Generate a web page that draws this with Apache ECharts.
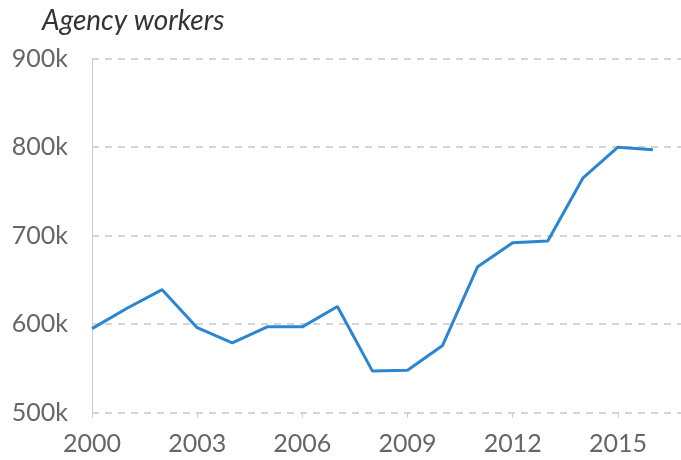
<!DOCTYPE html>
<html>
<head>
<meta charset="utf-8">
<script src="https://cdn.jsdelivr.net/npm/echarts@6/dist/echarts.min.js"></script>
<style>
  html, body { margin: 0; padding: 0; background: #fff; }
  #chart { width: 681px; height: 460px; }
</style>
</head>
<body>
<div id="chart"></div>
<script>
// Agency workers, annual totals (thousands)
const years = [2000, 2001, 2002, 2003, 2004, 2005, 2006, 2007, 2008,
               2009, 2010, 2011, 2012, 2013, 2014, 2015, 2016];
const workers = [595, 618, 639, 596, 579, 597, 597, 620, 547,
                 548, 576, 665, 692, 694, 765, 800, 797];

const chart = echarts.init(document.getElementById('chart'));
const labelFont = 'Lato, "Noto Sans", sans-serif';

chart.setOption({
  animation: false,
  title: {
    text: 'Agency workers',
    left: 37,
    top: 2,
    textStyle: {
      fontFamily: labelFont,
      fontStyle: 'italic',
      fontWeight: 'normal',
      fontSize: 28,
      color: '#333'
    }
  },
  grid: { left: 92, top: 58.7, right: 0, height: 354 },
  xAxis: {
    type: 'value',
    min: 2000,
    max: 2016.8,
    interval: 3,
    axisLine: { show: false },
    axisTick: { show: true, length: 5, lineStyle: { color: '#ccc' } },
    splitLine: { show: false },
    axisLabel: {
      showMaxLabel: false,
      margin: 19,
      fontFamily: labelFont,
      fontSize: 25,
      color: '#666',
      formatter: v => String(v)
    }
  },
  yAxis: {
    type: 'value',
    min: 500,
    max: 900,
    interval: 100,
    axisLine: { show: true, lineStyle: { color: '#ccc', width: 1 } },
    axisTick: { show: false },
    splitLine: { show: true, lineStyle: { color: '#c8c8c8', type: [7, 6], width: 1.5 } },
    axisLabel: {
      margin: 24,
      fontFamily: labelFont,
      fontSize: 25,
      color: '#666',
      formatter: v => v + 'k'
    }
  },
  series: [{
    type: 'line',
    data: years.map((y, i) => [y, workers[i]]),
    symbol: 'none',
    lineStyle: { color: '#2b86cf', width: 3 }
  }]
});
</script>
</body>
</html>
